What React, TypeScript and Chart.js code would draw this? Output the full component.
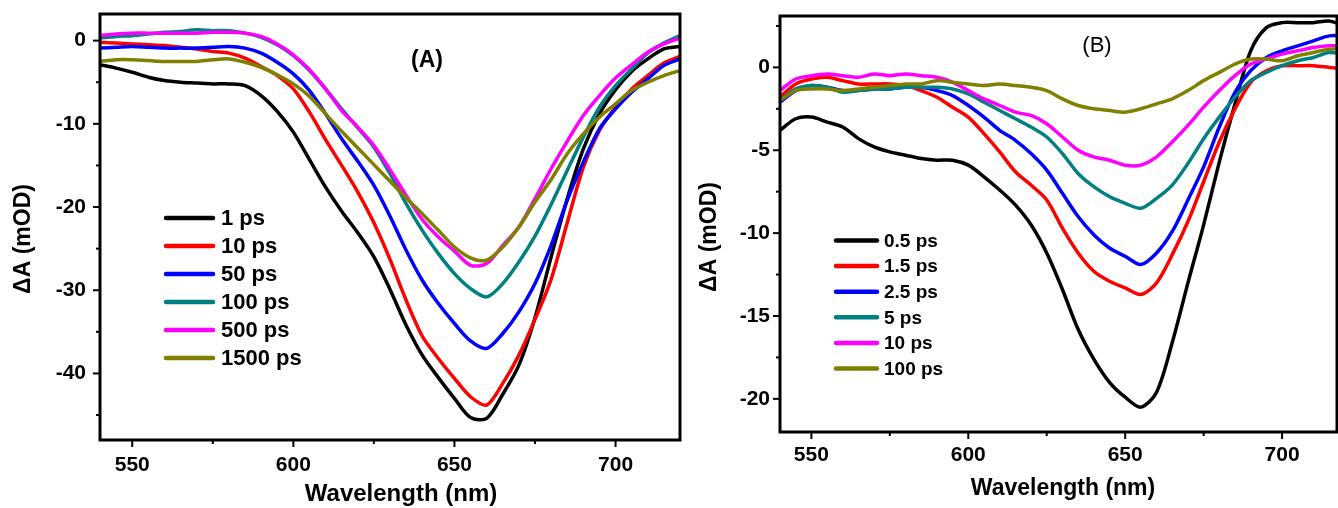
import React, { useEffect, useRef } from "react";
import { Chart, registerables } from "chart.js";

Chart.register(...registerables);

// ---------------- data ----------------
const wavelengths = [
  540, 545, 550, 555, 560, 565, 570, 575, 580, 585, 590,
  595, 600, 605, 610, 615, 620, 625, 630, 635, 640,
  645, 650, 655, 660, 665, 670, 675, 680, 685, 690,
  695, 700, 705, 710, 715, 720,
];

const labelsA = ["1 ps", "10 ps", "50 ps", "100 ps", "500 ps", "1500 ps"];
const labelsB = ["0.5 ps", "1.5 ps", "2.5 ps", "5 ps", "10 ps", "100 ps"];
const seriesColors = ["#000000", "#ff0000", "#0000ff", "#008080", "#ff00ff", "#808000"];

const xTitle = "Wavelength (nm)";
const yTitle = "ΔA (mOD)";

// Panel A (mOD)
const a1ps = [
  -2.9, -3.3, -3.8, -4.4, -4.8, -5.0, -5.1, -5.2, -5.2, -5.4, -6.6,
  -8.5, -11.0, -14.3, -17.6, -20.5, -23.1, -26.0, -29.9, -34.2, -37.8,
  -40.5, -43.0, -45.3, -45.4, -42.5, -39.0, -33.3, -26.0, -19.0, -13.0,
  -8.8, -5.9, -3.7, -2.2, -1.0, -0.7,
];
const a10ps = [
  -0.2, -0.3, -0.4, -0.5, -0.6, -0.8, -1.0, -1.3, -1.5, -2.1, -3.1,
  -4.2, -5.8, -8.6, -11.9, -15.0, -18.2, -21.9, -26.3, -31.2, -35.5,
  -38.2, -40.6, -42.8, -43.8, -41.2, -37.8, -33.5, -28.7, -21.9, -15.2,
  -10.8, -8.0, -5.8, -4.2, -2.7, -1.9,
];
const a50ps = [
  -0.9, -0.8, -0.7, -0.8, -0.9, -0.9, -0.9, -0.8, -0.7, -0.9, -1.5,
  -2.6, -4.0, -6.0, -8.8, -11.8, -14.5, -17.4, -21.1, -25.2, -28.8,
  -31.6, -34.0, -36.1, -37.0, -35.2, -32.6, -29.2, -24.6, -19.2, -14.6,
  -10.6, -8.2, -6.2, -4.6, -3.0, -2.2,
];
const a100ps = [
  0.3, 0.5, 0.6, 0.8, 1.0, 1.1, 1.3, 1.2, 1.2, 0.9, 0.4,
  -0.5, -1.8, -3.6, -5.8, -8.2, -10.5, -12.8, -16.0, -19.6, -22.8,
  -25.6, -28.0, -29.8, -30.8, -29.2, -26.6, -23.5, -19.7, -15.6, -11.6,
  -8.0, -5.4, -3.4, -1.5, -0.3, 0.6,
];
const a500ps = [
  0.6, 0.8, 0.9, 0.9, 0.9, 0.9, 0.9, 1.0, 1.0, 0.9, 0.5,
  -0.4, -1.7, -3.5, -5.8, -8.4, -10.4, -12.6, -15.5, -18.6, -21.5,
  -23.6, -25.3, -27.0, -26.8, -24.6, -22.4, -19.0, -15.4, -12.1, -9.0,
  -6.6, -4.5, -2.9, -1.4, -0.4, 0.3,
];
const a1500ps = [
  -2.5, -2.3, -2.3, -2.4, -2.5, -2.5, -2.5, -2.3, -2.2, -2.6, -3.2,
  -4.1, -5.2, -6.7, -8.8, -10.9, -12.9, -14.9, -16.9, -18.9, -20.8,
  -22.8, -24.8, -26.1, -26.4, -24.8, -22.4, -19.4, -16.7, -13.6, -11.2,
  -9.2, -7.6, -6.0, -5.0, -4.2, -3.6,
];

// Panel B (mOD)
const b05ps = [
  -3.8, -3.1, -3.0, -3.3, -3.6, -4.3, -4.8, -5.1, -5.3, -5.5, -5.6,
  -5.6, -5.9, -6.6, -7.4, -8.3, -9.5, -11.2, -13.4, -15.8, -17.6,
  -19.0, -19.9, -20.5, -19.6, -16.6, -13.0, -9.5, -5.7, -2.2, 1.0,
  2.4, 2.7, 2.7, 2.7, 2.8, 2.5,
];
const b15ps = [
  -1.8, -1.0, -0.7, -0.6, -0.8, -1.0, -1.0, -1.0, -1.1, -1.4, -1.8,
  -2.4, -3.0, -4.0, -5.1, -6.3, -7.1, -8.0, -9.7, -11.2, -12.3,
  -12.9, -13.3, -13.7, -13.0, -11.3, -9.3, -6.9, -4.5, -2.5, -0.9,
  -0.2, 0.1, 0.1, 0.1, 0.0, -0.1,
];
const b25ps = [
  -2.1, -1.4, -1.1, -1.2, -1.4, -1.4, -1.3, -1.3, -1.2, -1.2, -1.4,
  -1.7, -2.3, -3.0, -3.8, -4.4, -5.2, -6.2, -7.6, -9.0, -10.1,
  -10.9, -11.4, -11.9, -11.2, -9.9, -8.0, -6.0, -3.6, -1.5, -0.2,
  0.6, 1.0, 1.3, 1.6, 1.9, 1.9,
];
const b5ps = [
  -2.0, -1.3, -1.1, -1.2, -1.5, -1.4, -1.3, -1.3, -1.2, -1.2, -1.2,
  -1.3, -1.6, -2.1, -2.6, -3.1, -3.6, -4.2, -5.2, -6.4, -7.2,
  -7.8, -8.2, -8.5, -7.9, -7.1, -5.8, -4.3, -3.0, -1.8, -0.8,
  -0.3, 0.1, 0.4, 0.6, 0.9, 0.8,
];
const b10ps = [
  -1.4, -0.7, -0.5, -0.4, -0.5, -0.6, -0.4, -0.5, -0.4, -0.5, -0.6,
  -0.9, -1.4, -1.9, -2.3, -2.7, -2.9, -3.4, -4.2, -5.0, -5.4,
  -5.6, -5.9, -5.9, -5.4, -4.5, -3.5, -2.4, -1.4, -0.5, 0.2,
  0.5, 0.8, 1.0, 1.2, 1.3, 1.3,
];
const b100ps = [
  -2.0, -1.4, -1.3, -1.3, -1.4, -1.3, -1.2, -1.1, -1.0, -1.0, -0.8,
  -0.9, -1.0, -1.1, -1.0, -1.1, -1.2, -1.4, -1.9, -2.3, -2.5,
  -2.6, -2.7, -2.5, -2.2, -1.9, -1.4, -0.8, -0.3, 0.2, 0.5,
  0.5, 0.4, 0.7, 0.9, 1.1, 1.1,
];

const seriesA = [a1ps, a10ps, a50ps, a100ps, a500ps, a1500ps];
const seriesB = [b05ps, b15ps, b25ps, b5ps, b10ps, b100ps];

// ---------------- drawing helpers ----------------
const FONT = "'Liberation Sans', Arial, Helvetica, sans-serif";

const decorPlugin = {
  id: "decor",
  afterDatasetsDraw(chart: any, _args: any, opts: any) {
    const { ctx, chartArea: ca } = chart;
    ctx.save();
    // frame
    ctx.strokeStyle = "#000";
    ctx.lineWidth = opts.frameWidth;
    ctx.strokeRect(ca.left, ca.top, ca.right - ca.left, ca.bottom - ca.top);
    // ticks (major = labelled, minor = unlabelled)
    ctx.lineWidth = 2;
    const xs = chart.scales.x;
    const ys = chart.scales.y;
    ys.ticks.forEach((t: any) => {
      const py = ys.getPixelForValue(t.value);
      const len = t.label !== "" ? opts.majorLen : opts.minorLen;
      ctx.beginPath();
      ctx.moveTo(ca.left - len, py);
      ctx.lineTo(ca.left, py);
      ctx.stroke();
    });
    xs.ticks.forEach((t: any) => {
      const px = xs.getPixelForValue(t.value);
      const len = t.label !== "" ? opts.majorLen : opts.minorLen;
      ctx.beginPath();
      ctx.moveTo(px, ca.bottom);
      ctx.lineTo(px, ca.bottom + len);
      ctx.stroke();
    });
    // legend
    const lg = opts.legend;
    ctx.font = lg.font;
    ctx.textBaseline = "middle";
    ctx.textAlign = "left";
    ctx.lineCap = "round";
    chart.data.datasets.forEach((ds: any, i: number) => {
      const y = lg.y + i * lg.rowH;
      ctx.strokeStyle = ds.borderColor;
      ctx.lineWidth = 4.5;
      ctx.beginPath();
      ctx.moveTo(lg.x, y);
      ctx.lineTo(lg.x + lg.lineLen, y);
      ctx.stroke();
      ctx.fillStyle = "#000";
      ctx.fillText(ds.label, lg.x + lg.lineLen + lg.gap, y + 1);
    });
    // panel label
    ctx.fillStyle = "#000";
    ctx.textAlign = "center";
    const p = opts.panel;
    ctx.font = p.font;
    ctx.fillText(p.text, p.x, p.y);
    // axis titles
    const xt = opts.xTitle;
    ctx.font = xt.font;
    ctx.fillText(xTitle, xt.x, xt.y);
    const yt = opts.yTitle;
    ctx.font = yt.font;
    ctx.translate(yt.x, yt.y);
    ctx.rotate(-Math.PI / 2);
    ctx.fillText(yTitle, 0, 0);
    ctx.restore();
  },
};

function makeConfig(series: number[][], labels: string[], ax: any, deco: any) {
  const n = series.length;
  const datasets = series.map((vals, i) => ({
    label: labels[i],
    data: wavelengths.map((w, j) => ({ x: w, y: vals[j] })),
    borderColor: seriesColors[i],
    backgroundColor: seriesColors[i],
    borderWidth: 3.5,
    pointRadius: 0,
    tension: 0.3,
    fill: false,
    order: n - 1 - i,
  }));
  const tickFont = { family: FONT, size: 21, weight: "bold" as const };
  const lbl = (every: number) => (v: any) =>
    Math.abs(Number(v) % every) < 1e-6 ? String(Number(v)) : "";
  return {
    type: "line" as const,
    data: { datasets },
    options: {
      responsive: false,
      animation: false as const,
      events: [],
      layout: { padding: ax.padding },
      plugins: {
        legend: { display: false },
        tooltip: { enabled: false },
        decor: deco,
      },
      scales: {
        x: {
          type: "linear" as const,
          min: ax.xMin,
          max: ax.xMax,
          afterFit: (s: any) => {
            s.height = ax.xHeight;
            s.paddingLeft = 0;
            s.paddingRight = 0;
          },
          border: { display: false },
          grid: {
            display: true,
            drawOnChartArea: false,
            drawTicks: true,
            tickLength: 7,
            tickColor: "rgba(0,0,0,0)",
          },
          ticks: {
            stepSize: ax.xStep,
            includeBounds: false,
            autoSkip: false,
            maxRotation: 0,
            padding: ax.xTickPad,
            color: "#000",
            font: tickFont,
            callback: lbl(ax.xEvery),
          },
          title: { display: false },
        },
        y: {
          type: "linear" as const,
          min: ax.yMin,
          max: ax.yMax,
          afterFit: (s: any) => {
            s.width = ax.yWidth;
            s.paddingTop = 0;
            s.paddingBottom = 0;
          },
          border: { display: false },
          grid: {
            display: true,
            drawOnChartArea: false,
            drawTicks: true,
            tickLength: 7,
            tickColor: "rgba(0,0,0,0)",
          },
          ticks: {
            stepSize: ax.yStep,
            includeBounds: false,
            autoSkip: false,
            padding: ax.yTickPad,
            color: "#000",
            font: tickFont,
            callback: lbl(ax.yEvery),
          },
          title: { display: false },
        },
      },
    },
    plugins: [decorPlugin],
  };
}

const axisA = {
  xMin: 540, xMax: 720, xStep: 25, xEvery: 50,
  yMin: -48, yMax: 3.2, yStep: 5, yEvery: 10,
  yWidth: 100, xHeight: 68,
  padding: { left: 0, top: 14, right: 20, bottom: 0 },
  yTickPad: 7, xTickPad: 6,
};
const decoA = {
  frameWidth: 3, majorLen: 7, minorLen: 4,
  legend: { x: 166, y: 218, rowH: 28, lineLen: 47, gap: 8, font: `bold 22px ${FONT}` },
  panel: { text: "(A)", x: 427, y: 61, font: `bold 23px ${FONT}` },
  xTitle: { x: 401, y: 494, font: `bold 24px ${FONT}` },
  yTitle: { x: 24, y: 239, font: `bold 23px ${FONT}` },
};

const axisB = {
  xMin: 540, xMax: 717.5, xStep: 25, xEvery: 50,
  yMin: -22, yMax: 3.1, yStep: 2.5, yEvery: 5,
  yWidth: 90, xHeight: 76,
  padding: { left: 0, top: 16, right: 1, bottom: 0 },
  yTickPad: 3, xTickPad: 4,
};
const decoB = {
  frameWidth: 3, majorLen: 7, minorLen: 4,
  legend: { x: 146, y: 240.5, rowH: 25.6, lineLen: 41, gap: 7, font: `bold 19px ${FONT}` },
  panel: { text: "(B)", x: 407, y: 46, font: `22px ${FONT}` },
  xTitle: { x: 373, y: 489, font: `bold 23px ${FONT}` },
  yTitle: { x: 20, y: 237, font: `bold 23px ${FONT}` },
};

export default function App() {
  const refA = useRef<HTMLCanvasElement>(null);
  const refB = useRef<HTMLCanvasElement>(null);

  useEffect(() => {
    Chart.defaults.color = "#000";
    const ca = new Chart(refA.current as any, makeConfig(seriesA, labelsA, axisA, decoA) as any);
    const cb = new Chart(refB.current as any, makeConfig(seriesB, labelsB, axisB, decoB) as any);
    return () => {
      ca.destroy();
      cb.destroy();
    };
  }, []);

  return (
    <div
      style={{
        position: "absolute",
        left: 0,
        top: 0,
        width: 1338,
        height: 508,
        background: "#fff",
        overflow: "hidden",
      }}
    >
      <canvas
        ref={refA}
        width={700}
        height={508}
        style={{ position: "absolute", left: 0, top: 0, width: 700, height: 508 }}
      />
      <canvas
        ref={refB}
        width={648}
        height={508}
        style={{ position: "absolute", left: 690, top: 0, width: 648, height: 508 }}
      />
    </div>
  );
}
